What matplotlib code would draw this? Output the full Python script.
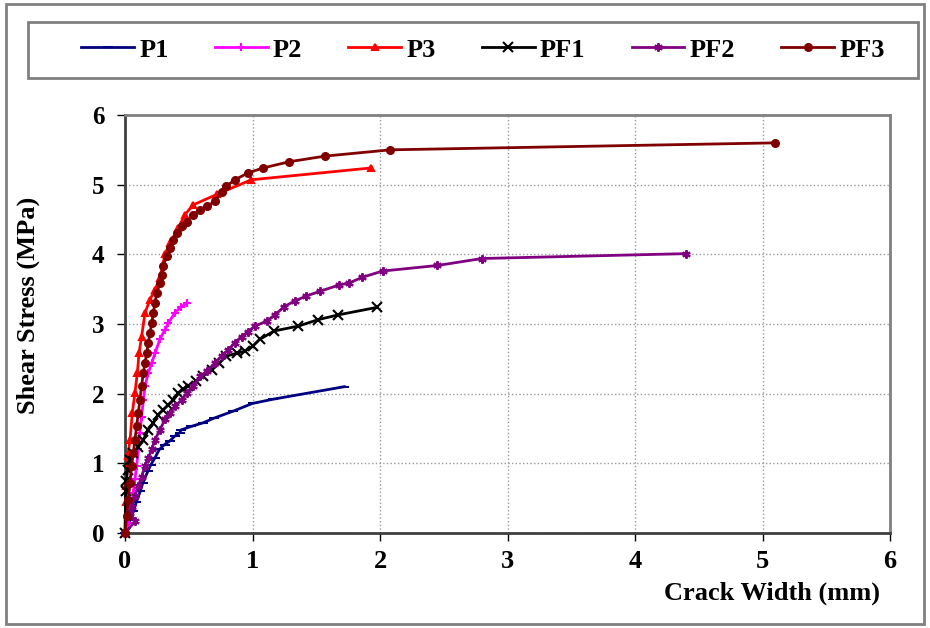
import numpy as np
import matplotlib.pyplot as plt
from matplotlib.patches import Rectangle

# crack width (mm) and shear stress (MPa)
p1_x = [0, 0.04, 0.065, 0.09, 0.12, 0.14, 0.18, 0.20, 0.235, 0.27, 0.31, 0.35, 0.39, 0.43,
        0.44, 0.52, 0.61, 0.70, 0.85, 1.0, 1.16, 1.72]
p1_y = [0, 0.19, 0.31, 0.45, 0.60, 0.72, 0.89, 0.97, 1.08, 1.20, 1.27, 1.32, 1.39, 1.44,
        1.48, 1.53, 1.58, 1.65, 1.75, 1.86, 1.92, 2.10]

p2_x = [0, 0.026, 0.05, 0.065, 0.078, 0.091, 0.104, 0.117, 0.13, 0.144, 0.157, 0.183, 0.21,
        0.235, 0.274, 0.313, 0.34, 0.39, 0.44, 0.49]
p2_y = [0, 0.14, 0.38, 0.57, 0.77, 0.96, 1.20, 1.44, 1.67, 1.91, 2.11, 2.30, 2.44,
        2.58, 2.78, 2.92, 3.01, 3.16, 3.25, 3.30]

p3_x = [0, 0.01, 0.01, 0.02, 0.04, 0.057, 0.078, 0.097, 0.11, 0.13, 0.157, 0.196, 0.235,
        0.274, 0.313, 0.352, 0.418, 0.47, 0.535, 0.72, 0.99, 1.93]
p3_y = [0, 0.45, 0.67, 1.10, 1.34, 1.72, 2.01, 2.30, 2.58, 2.82, 3.16, 3.35, 3.49,
        3.66, 4.00, 4.16, 4.38, 4.57, 4.71, 4.86, 5.07, 5.24]

pf1_x = [0, 0.005, 0.01, 0.02, 0.04, 0.065, 0.104, 0.144, 0.183, 0.222, 0.26, 0.30, 0.34,
         0.38, 0.418, 0.457, 0.496, 0.56, 0.61, 0.68, 0.74, 0.796, 0.875, 0.94, 1.0,
         1.057, 1.17, 1.36, 1.51, 1.67, 1.98]
pf1_y = [0, 0.60, 0.75, 0.90, 1.05, 1.15, 1.24, 1.34, 1.48, 1.58, 1.70, 1.77, 1.84,
         1.91, 2.01, 2.06, 2.11, 2.18, 2.25, 2.34, 2.44, 2.54, 2.58, 2.61, 2.68,
         2.78, 2.90, 2.97, 3.06, 3.13, 3.24]

pf2_x = [0, 0.08, 0.04, 0.052, 0.078, 0.104, 0.13, 0.157, 0.183, 0.21, 0.235, 0.274, 0.313,
         0.352, 0.39, 0.444, 0.483, 0.535, 0.587, 0.64, 0.705, 0.757, 0.81, 0.86, 0.914,
         0.966, 1.018, 1.11, 1.175, 1.25, 1.33, 1.42, 1.53, 1.68, 1.76, 1.86, 2.02,
         2.45, 2.80, 4.40]
pf2_y = [0, 0.17, 0.28, 0.38, 0.53, 0.67, 0.81, 0.96, 1.08, 1.20, 1.34, 1.48, 1.63,
         1.72, 1.82, 1.91, 2.01, 2.11, 2.25, 2.32, 2.44, 2.54, 2.63, 2.73, 2.82,
         2.89, 2.97, 3.04, 3.13, 3.25, 3.33, 3.40, 3.47, 3.56, 3.59, 3.67, 3.76,
         3.84, 3.94, 4.01]

pf3_x = [0, 0.013, 0.026, 0.039, 0.052, 0.065, 0.078, 0.091, 0.104, 0.117, 0.13, 0.144,
         0.157, 0.17, 0.183, 0.196, 0.21, 0.222, 0.235, 0.248, 0.274, 0.287, 0.30, 0.326,
         0.352, 0.378, 0.405, 0.444, 0.483, 0.535, 0.587, 0.64, 0.705, 0.757, 0.796,
         0.862, 0.966, 1.084, 1.29, 1.57, 2.08, 5.10]
pf3_y = [0, 0.24, 0.48, 0.72, 0.96, 1.15, 1.34, 1.53, 1.72, 1.91, 2.11, 2.30,
         2.44, 2.58, 2.73, 2.87, 3.01, 3.16, 3.30, 3.44, 3.59, 3.71, 3.83, 3.97,
         4.09, 4.21, 4.31, 4.40, 4.47, 4.57, 4.64, 4.69, 4.76, 4.90, 4.98,
         5.07, 5.17, 5.24, 5.33, 5.41, 5.50, 5.60]

labels = ['P1', 'P2', 'P3', 'PF1', 'PF2', 'PF3']
xs = [p1_x, p2_x, p3_x, pf1_x, pf2_x, pf3_x]
ys = [p1_y, p2_y, p3_y, pf1_y, pf2_y, pf3_y]
colors = ['#000080', '#FF00FF', '#FF0000', '#000000', '#800080', '#800000']
markers = ['_', '+', '^', 'x', (6, 2, 0), 'o']
msizes = [7, 6, 5, 7, 6, 5]

plt.rcParams['font.family'] = 'Liberation Serif'
plt.rcParams['font.weight'] = 'bold'

fig = plt.figure(figsize=(9.3, 6.28), dpi=100)
ax = fig.add_axes([125/930, 1-533/628, 765/930, 418/628])

for k in range(6):
    ax.plot(xs[k], ys[k], color=colors[k], marker=markers[k], markersize=msizes[k],
            markeredgewidth=1.5, lw=2, label=labels[k], clip_on=False, zorder=3)

ax.set_xlim(0, 6)
ax.set_ylim(0, 6)
ax.set_xticks(range(7))
ax.set_yticks(range(7))
ax.grid(True, color='#999999', linestyle=':', linewidth=1)
ax.tick_params(axis='x', direction='out', length=6, width=1, pad=6, labelsize=19)
ax.tick_params(axis='y', direction='out', length=6, width=1, pad=9, labelsize=18)
for s in ['left', 'bottom']:
    ax.spines[s].set_color('#404040')
    ax.spines[s].set_linewidth(2)
for s in ['top', 'right']:
    ax.spines[s].set_color('#808080')
    ax.spines[s].set_linewidth(2)

fig.text(28/930, 1-305/628, 'Shear Stress (MPa)', fontsize=19, fontweight='bold',
         rotation=90, ha='center', va='center')
fig.text(880/930, 1-593/628, 'Crack Width (mm)', fontsize=19, fontweight='bold',
         ha='right', va='center')

# outer frame and legend box
fig.patches.append(Rectangle((6/930, 4/628), 918/930, 620/628, transform=fig.transFigure,
                             fill=False, edgecolor='#808080', lw=2))
fig.patches.append(Rectangle((28/930, 1-78/628), 890/930, 56/628, transform=fig.transFigure,
                             fill=False, edgecolor='#808080', lw=2))
h, l = ax.get_legend_handles_labels()
fig.legend(h, l, loc='center', bbox_to_anchor=(483/930, 1-50/628), ncol=6, frameon=False,
           handlelength=2.0, handletextpad=0.2, columnspacing=1.75,
           prop={'weight': 'bold', 'size': 19})

plt.savefig('out.png', dpi=100)
